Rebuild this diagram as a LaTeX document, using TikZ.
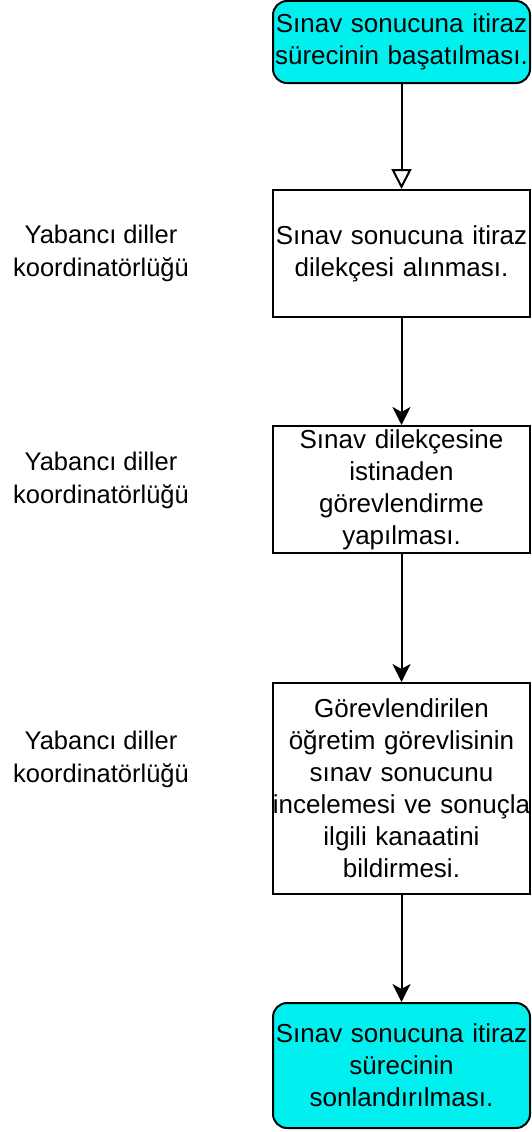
\documentclass[tikz,border=0pt]{standalone}
\usepackage{fontspec}
\setmainfont{Liberation Sans}
\usetikzlibrary{arrows.meta}
\definecolor{cyanfill}{HTML}{00F0F0}
\tikzset{
  flowbox/.style={draw=black, line width=2pt, minimum width=257pt, text width=280pt, inner sep=0pt, align=center, font=\fontsize{26}{32}\selectfont},
  termbox/.style={flowbox, fill=cyanfill, rounded corners=14pt},
  rolelabel/.style={align=center, font=\fontsize{25.5}{33}\selectfont, inner sep=0pt},
  flowarrow/.style={line width=2pt, -{Stealth[length=18pt, width=18pt, inset=5pt]}},
  openarrow/.style={line width=2pt, -{Triangle[open, length=20pt, width=20pt]}}
}
\begin{document}
\begin{tikzpicture}[x=1pt, y=-1pt]
\useasboundingbox (0,0) rectangle (531,1132);
\node[termbox, minimum height=82pt, text width=255pt] (b1) at (401.5,42) {Sınav sonucuna itiraz\\sürecinin başatılması.};
\node[flowbox, minimum height=127pt, text width=255pt] (b2) at (401.5,253.5) {Sınav sonucuna itiraz\\dilekçesi alınması.};
\node[flowbox, minimum height=127pt, text width=255pt] (b3) at (401.5,489.5) {Sınav dilekçesine\\istinaden\\görevlendirme\\yapılması.};
\node[flowbox, minimum height=211pt, text width=255pt] (b4) at (401.5,788.5) {Görevlendirilen\\öğretim görevlisinin\\sınav sonucunu\\\makebox[0pt]{incelemesi ve sonuçla}\\ilgili kanaatini\\bildirmesi.};
\node[termbox, minimum height=125pt, text width=255pt] (b5) at (401.5,1065.5) {Sınav sonucuna itiraz\\sürecinin\\sonlandırılması.};
\node[rolelabel] (l1) at (101,253) {Yabancı diller\\koordinatörlüğü};
\node[rolelabel] (l2) at (101,480) {Yabancı diller\\koordinatörlüğü};
\node[rolelabel] (l3) at (101,759) {Yabancı diller\\koordinatörlüğü};
\draw[openarrow] (b1) -- (b2);
\draw[flowarrow] (b2) -- (b3);
\draw[flowarrow] (b3) -- (b4);
\draw[flowarrow] (b4) -- (b5);
\end{tikzpicture}
\end{document}
